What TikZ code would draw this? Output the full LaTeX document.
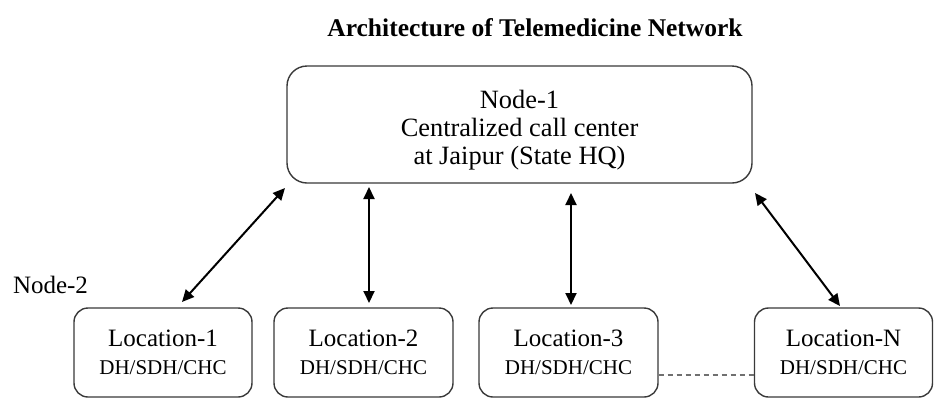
\documentclass[tikz,border=0pt]{standalone}
\usepackage{fontspec}
\setmainfont{Liberation Serif}
\usetikzlibrary{arrows.meta}
\definecolor{boxgray}{HTML}{3A3A3A}
\definecolor{dashgray}{HTML}{707070}
\begin{document}
\begin{tikzpicture}[x=1pt,y=-1pt,
  box/.style={draw=boxgray, line width=1.4pt, rounded corners=14pt, inner sep=0pt, align=center},
  link/.style={line width=2pt, {Triangle[length=12pt,width=11pt]}-{Triangle[length=12pt,width=11pt]}},
  dots/.style={draw=dashgray, line width=1.5pt, dash pattern=on 5pt off 4pt},
  lbl/.style={inner sep=0pt, align=center}]
\useasboundingbox[fill=white] (0,0) rectangle (948,416);
\node[lbl, font=\fontsize{25.5}{30}\selectfont\bfseries] (title) at (535,28) {Architecture of Telemedicine Network};
\node[box, rounded corners=20pt, minimum width=465pt, minimum height=117pt, font=\fontsize{26.4}{28}\selectfont] (top) at (519.5,124.5) {\rule{0pt}{30pt}Node-1\\Centralized call center\\at Jaipur (State HQ)};
\node[lbl, font=\fontsize{25}{30}\selectfont] (n2) at (50.5,285) {Node-2};
\foreach \n/\x/\w/\t in {l1/163/178/1, l2/363.5/179/2, l3/568.5/179/3, lN/843.5/178/N}{
  \node[box, minimum width=\w pt, minimum height=89pt, font=\fontsize{25}{28}\selectfont] (\n) at (\x,352.5) {Location-\t\\{\fontsize{21}{28}\selectfont DH/SDH/CHC}};
}
\coordinate (a1) at (285,188); \coordinate (b1) at (182,302);
\coordinate (a2) at (369,187); \coordinate (b2) at (369,303);
\coordinate (a3) at (571,193); \coordinate (b3) at (571,305);
\coordinate (a4) at (755,193); \coordinate (b4) at (840,306);
\draw[link] (a1) -- (b1);
\draw[link] (a2) -- (b2);
\draw[link] (a3) -- (b3);
\draw[link] (a4) -- (b4);
\draw[dots] ([yshift=-22.5pt]l3.east) -- ([yshift=-22.5pt]lN.west);
\end{tikzpicture}
\end{document}
